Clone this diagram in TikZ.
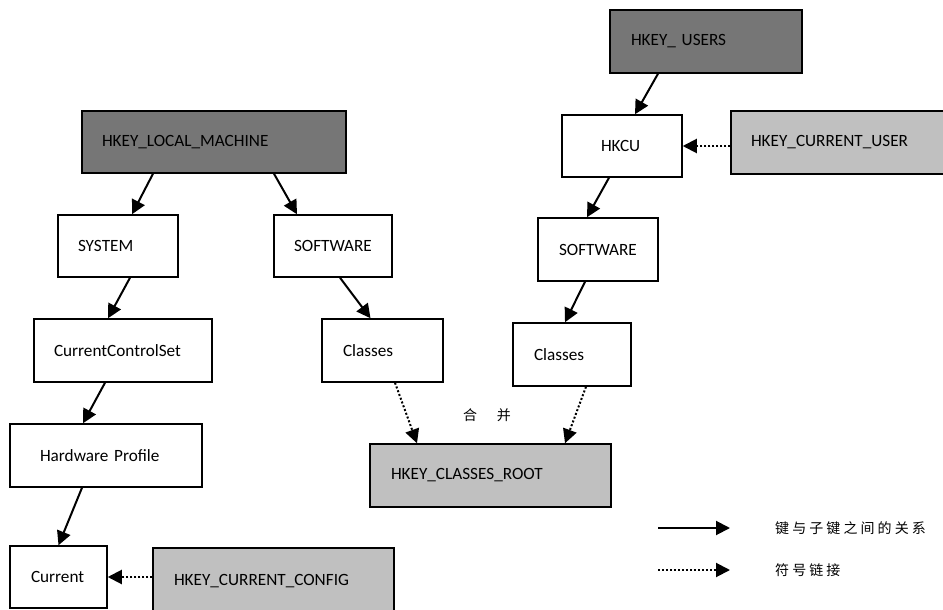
\documentclass[tikz,border=0pt]{standalone}
\usepackage{fontspec}
\setmainfont{Carlito}
\newfontfamily\cjk{Noto Sans CJK SC}
\newfontfamily\cjkwide[LetterSpace=22]{Noto Sans CJK SC}
\usetikzlibrary{arrows.meta}
\definecolor{darkkey}{RGB}{118,118,118}
\definecolor{lightkey}{RGB}{192,192,192}
\begin{document}
\begin{tikzpicture}[x=1pt,y=-1pt,line cap=butt,line join=miter,
  key/.style={draw,line width=1.5pt,align=left,inner xsep=20pt,inner ysep=0pt,
    minimum height=62pt,font=\fontsize{17.2}{20}\selectfont},
  rootkey/.style={key,fill=darkkey},
  linkkey/.style={key,fill=lightkey},
  sub/.style={line width=2pt,-{Triangle[length=14pt,width=14pt]}},
  symlink/.style={line width=2pt,dash pattern=on 2pt off 2pt,-{Triangle[length=14pt,width=14pt]}}]
\useasboundingbox (0,0) rectangle (943,610);
% HKLM
\node[rootkey,text width=224pt] (lm) at (214,142) {HKEY\_LOCAL\_MACHINE};
\node[key,text width=80pt] (system) at (118,246) {SYSTEM};
\node[key,text width=78pt] (softl) at (333,246) {SOFTWARE};
\node[key,text width=138pt,minimum height=63pt] (ccs) at (123,350.5) {CurrentControlSet};
\node[key,inner xsep=30pt,text width=132pt,minimum height=63pt] (hp) at (106,455.5) {Hardware Profile};
\node[key,inner xsep=21pt,text width=55pt] (cur) at (58.5,577) {Current};
\node[linkkey,inner xsep=21pt,text width=199pt,minimum height=66pt] (cfg) at (273.5,581) {HKEY\_CURRENT\_CONFIG};
\node[key,inner xsep=21pt,text width=79pt,minimum height=63pt] (clsl) at (382.5,350.5) {Classes};
% HKU
\node[rootkey,inner xsep=21pt,text width=150pt,minimum height=63pt] (users) at (706,41.5) {HKEY\_\ USERS};
\node[key,inner xsep=39pt,text width=42pt] (hkcu) at (622,146) {HKCU};
\node[linkkey,text width=179pt,minimum height=63pt] (cu) at (840.5,142.5) {HKEY\_CURRENT\_USER};
\node[key,inner xsep=21pt,text width=78pt,minimum height=63pt] (softr) at (598,249.5) {SOFTWARE};
\node[key,inner xsep=21pt,text width=76pt,minimum height=63pt] (clsr) at (572,354.5) {Classes};
\node[linkkey,inner xsep=21pt,text width=199pt,minimum height=63pt] (cr) at (490.5,475.5) {HKEY\_CLASSES\_ROOT};
\node[font=\cjk\fontsize{14}{16}\selectfont] (merge) at (487,415) {合\hspace{20pt}并};
% subkeys
\draw[sub] ([xshift=-61pt]lm.south) -- ([xshift=14pt]system.north);
\draw[sub] ([xshift=60pt]lm.south) -- ([xshift=-36pt]softl.north);
\draw[sub] ([xshift=12pt]system.south) -- ([xshift=-15pt]ccs.north);
\draw[sub] ([xshift=7pt]softl.south) -- ([xshift=-12pt]clsl.north);
\draw[sub] ([xshift=-18pt]ccs.south) -- ([xshift=-23pt]hp.north);
\draw[sub] ([xshift=-24pt]hp.south) -- (cur.north);
\draw[sub] ([xshift=-48pt]users.south) -- ([xshift=13pt]hkcu.north);
\draw[sub] ([xshift=-13pt]hkcu.south) -- ([xshift=-11pt]softr.north);
\draw[sub] ([xshift=-13pt]softr.south) -- ([xshift=-7pt]clsr.north);
% links
\draw[symlink] (cu.west |- hkcu.east) -- (hkcu.east);
\draw[symlink] (cfg.west |- cur.east) -- (cur.east);
\draw[symlink] ([xshift=12.5pt]clsl.south) -- ([xshift=-73.5pt]cr.north);
\draw[symlink] ([xshift=14pt]clsr.south) -- ([xshift=74.5pt]cr.north);
% legend
\coordinate (la) at (658,528);
\coordinate (lb) at (730,528);
\coordinate (lc) at (658,570);
\coordinate (ld) at (730,570);
\draw[sub] (la) -- (lb);
\draw[symlink] (lc) -- (ld);
\node[anchor=west,inner sep=0pt,font=\cjkwide\fontsize{14}{16}\selectfont] (lsub) at (775,528) {键与子键之间的关系};
\node[anchor=west,inner sep=0pt,font=\cjkwide\fontsize{14}{16}\selectfont] (llink) at (775,570) {符号链接};
\end{tikzpicture}
\end{document}
